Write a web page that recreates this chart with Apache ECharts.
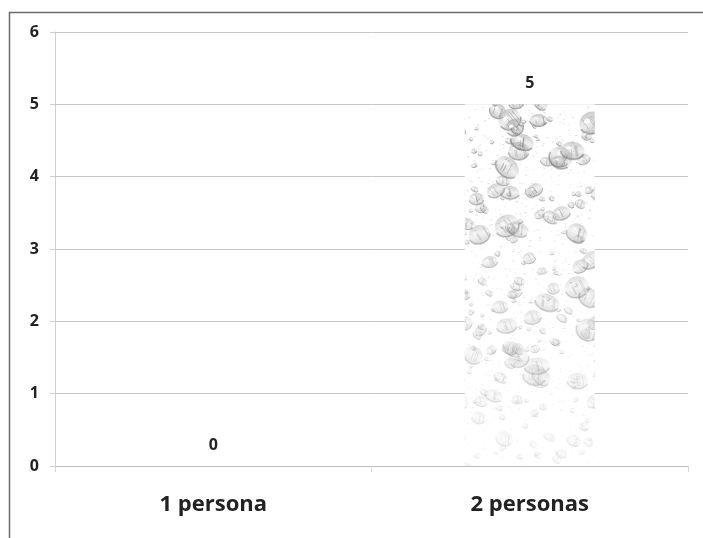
<!DOCTYPE html>
<html>
<head>
<meta charset="utf-8">
<script src="https://cdn.jsdelivr.net/npm/echarts@6/dist/echarts.min.js"></script>
<style>
  html, body { margin: 0; padding: 0; background: #fff; }
  #chart { width: 703px; height: 538px; }
</style>
</head>
<body>
<div id="chart"></div>
<script>
// Categories and values
const categories = ['1 persona', '2 personas'];
const values = [0, 5];
const yTicks = [0, 1, 2, 3, 4, 5, 6];

// Water-drop texture for the bar fill (deterministic hash, not data)
function hash(n) {
  const x = Math.sin(n * 127.1 + 311.7) * 43758.5453;
  return x - Math.floor(x);
}
function makeDropTexture(w, h) {
  const c = document.createElement('canvas');
  c.width = w; c.height = h;
  const ctx = c.getContext('2d');
  ctx.fillStyle = '#ffffff';
  ctx.fillRect(0, 0, w, h);
  // fine grain
  for (let i = 0; i < 9000; i++) {
    const x = hash(i * 5 + 101) * w;
    const y = hash(i * 5 + 102) * h;
    const fade = Math.max(0.2, 1 - Math.max(0, y - 100) / 450);
    ctx.fillStyle = 'rgba(120,120,120,' + (0.35 * fade * hash(i * 5 + 103)) + ')';
    ctx.fillRect(x, y, 1 + hash(i * 5 + 104) * 1.5, 1);
  }
  const count = 1500;
  for (let i = 0; i < count; i++) {
    const x = hash(i * 3 + 1) * w;
    const y = hash(i * 3 + 2) * h;
    // drops get fainter toward the bottom of the chart
    const fade = Math.max(0.2, 1 - Math.max(0, (y - 100)) / 430);
    const r = 2 + Math.pow(hash(i * 3 + 3), 2.2) * 11;
    const ry = r * (0.6 + hash(i * 7 + 5) * 0.35);
    const rot = (hash(i * 11 + 9) - 0.5) * 1.4;
    ctx.save();
    ctx.translate(x, y);
    ctx.rotate(rot);
    // body, hatched gray
    const g = ctx.createLinearGradient(0, -ry, 0, ry);
    g.addColorStop(0, 'rgba(150,150,150,' + (0.55 * fade) + ')');
    g.addColorStop(0.5, 'rgba(205,205,205,' + (0.35 * fade) + ')');
    g.addColorStop(1, 'rgba(130,130,130,' + (0.5 * fade) + ')');
    ctx.beginPath();
    ctx.ellipse(0, 0, r, ry, 0, 0, Math.PI * 2);
    ctx.fillStyle = g;
    ctx.fill();
    // sketchy strokes inside
    ctx.lineWidth = 0.7;
    ctx.strokeStyle = 'rgba(110,110,110,' + (0.45 * fade) + ')';
    const lines = Math.floor(r / 2.5);
    for (let k = 0; k < lines; k++) {
      const ox = (hash(i * 13 + k) - 0.5) * r * 1.2;
      ctx.beginPath();
      ctx.moveTo(ox, -ry * 0.6);
      ctx.lineTo(ox + r * 0.2, ry * 0.6);
      ctx.stroke();
    }
    // darker rim on one side
    ctx.beginPath();
    ctx.ellipse(0, 0, r, ry, 0, 0.1 * Math.PI, 0.95 * Math.PI);
    ctx.lineWidth = Math.max(0.8, r * 0.14);
    ctx.strokeStyle = 'rgba(100,100,100,' + (0.5 * fade) + ')';
    ctx.stroke();
    // highlight
    ctx.beginPath();
    ctx.ellipse(-r * 0.3, -ry * 0.3, r * 0.25, ry * 0.2, 0, 0, Math.PI * 2);
    ctx.fillStyle = 'rgba(255,255,255,' + (0.9 * fade) + ')';
    ctx.fill();
    ctx.restore();
  }
  return c;
}

const texture = makeDropTexture(703, 538);
const chart = echarts.init(document.getElementById('chart'), null, { renderer: 'canvas' });

const font = '"Open Sans", "DejaVu Sans", sans-serif';

chart.setOption({
  animation: false,
  backgroundColor: '#ffffff',
  graphic: [{
    type: 'rect',
    shape: { x: 9.5, y: 12.5, width: 720, height: 540 },
    style: { fill: 'none', stroke: '#6a6a6a', lineWidth: 1.5 },
    silent: true,
    z: -1
  }],
  grid: { left: 55, right: 15, top: 32, bottom: 72 },
  xAxis: {
    type: 'category',
    data: categories,
    axisLine: { show: true, lineStyle: { color: '#bdbdbd', width: 1 } },
    axisTick: { show: true, alignWithLabel: false, length: 6, lineStyle: { color: '#d6d6d6' } },
    axisLabel: {
      color: '#222222', fontFamily: font, fontWeight: 'bold', fontSize: 22, margin: 28
    }
  },
  yAxis: {
    type: 'value',
    min: yTicks[0],
    max: yTicks[yTicks.length - 1],
    interval: 1,
    axisLine: { show: true, lineStyle: { color: '#cfcfcf', width: 1 } },
    axisTick: { show: true, length: 5, lineStyle: { color: '#cfcfcf' } },
    splitLine: { show: true, lineStyle: { color: '#c6c6c6', width: 1 } },
    axisLabel: {
      color: '#222222', fontFamily: font, fontWeight: 'bold', fontSize: 16, margin: 16
    }
  },
  series: [{
    type: 'bar',
    data: values,
    barWidth: 130,
    itemStyle: {
      color: { image: texture, repeat: 'repeat' }
    },
    label: {
      show: true,
      position: 'top',
      distance: 13,
      color: '#222222',
      fontFamily: font,
      fontWeight: 'bold',
      fontSize: 16
    }
  }]
});
</script>
</body>
</html>
